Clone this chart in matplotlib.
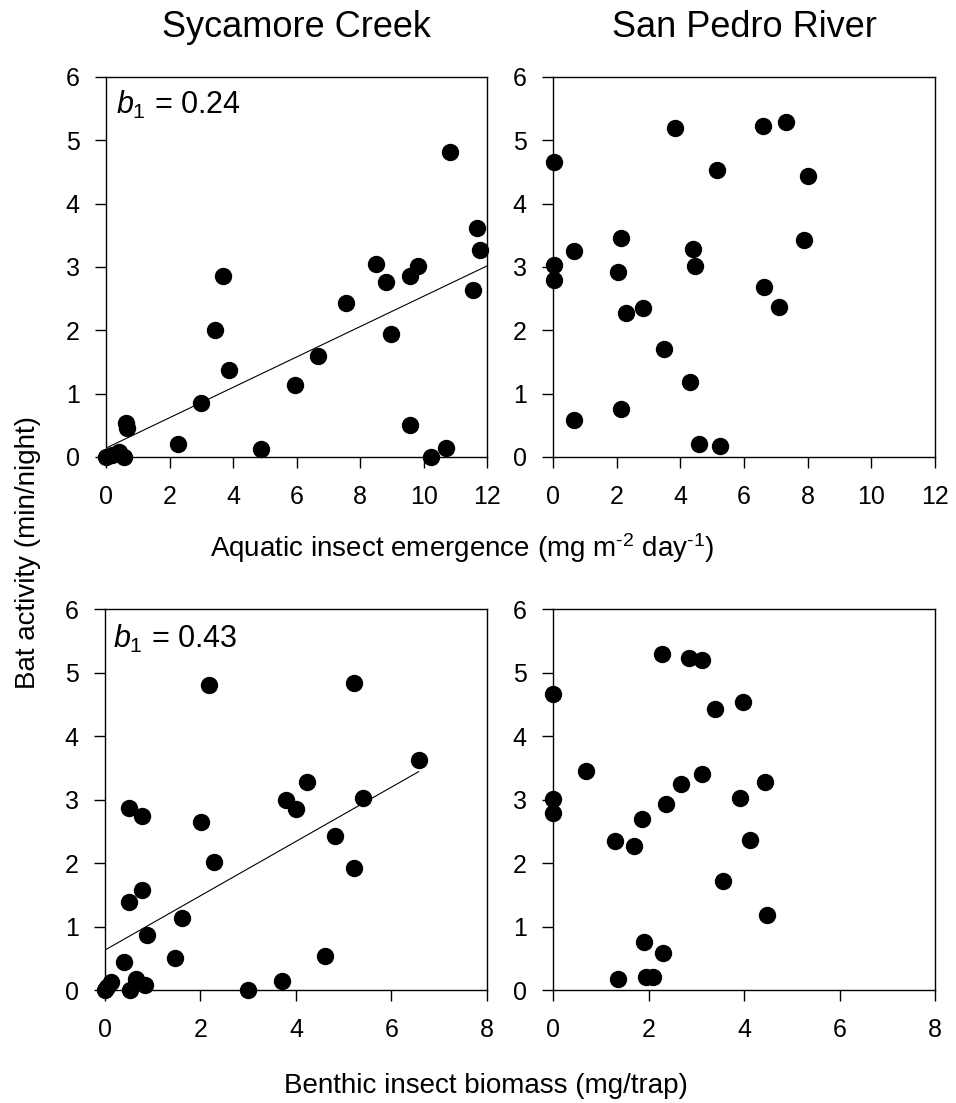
import numpy as np
import matplotlib
matplotlib.use('Agg')
import matplotlib.pyplot as plt

plt.rcParams['font.family'] = ['Liberation Sans', 'DejaVu Sans']
plt.rcParams['mathtext.fontset'] = 'custom'
plt.rcParams['mathtext.rm'] = 'Liberation Sans'
plt.rcParams['mathtext.it'] = 'Liberation Sans:italic'

# Sycamore Creek - aquatic insect emergence vs bat activity
syc_emerg_x = [0.0, 0.2, 0.4, 0.55, 0.63, 0.67, 2.26, 2.99, 3.44, 3.67, 3.86, 4.87,
               5.95, 6.66, 7.56, 8.48, 8.80, 8.97, 9.57, 9.83, 9.57, 10.23, 10.68,
               10.82, 11.68, 11.75, 11.56]
syc_emerg_y = [0.0, 0.03, 0.08, 0.0, 0.54, 0.46, 0.2, 0.86, 2.0, 2.86, 1.37, 0.12,
               1.13, 1.59, 2.43, 3.04, 2.77, 1.94, 2.86, 3.01, 0.50, 0.0, 0.14,
               4.82, 3.62, 3.27, 2.64]
syc_emerg_fit_x = [0, 12]
syc_emerg_fit_y = [0.14, 3.02]

# San Pedro River - aquatic insect emergence vs bat activity
sp_emerg_x = [0.02, 0.02, 0.02, 0.67, 0.67, 2.13, 2.04, 2.28, 2.81, 2.14, 3.47, 3.84,
              4.39, 4.45, 4.31, 4.60, 5.23, 5.15, 6.59, 7.31, 6.64, 7.11, 8.02, 7.89]
sp_emerg_y = [4.66, 3.03, 2.79, 3.25, 0.59, 3.45, 2.92, 2.28, 2.35, 0.76, 1.70, 5.19,
              3.28, 3.02, 1.18, 0.20, 0.18, 4.53, 5.23, 5.29, 2.68, 2.37, 4.43, 3.42]

# Sycamore Creek - benthic insect biomass vs bat activity
syc_benth_x = [0.0, 0.05, 0.12, 0.40, 0.51, 0.50, 0.77, 0.77, 0.89, 0.52, 0.66, 0.84,
               1.47, 1.61, 2.01, 2.18, 2.29, 3.0, 3.70, 3.79, 4.0, 4.24, 4.61, 4.82,
               5.21, 5.21, 5.40, 6.58]
syc_benth_y = [0.0, 0.05, 0.12, 0.44, 1.38, 2.86, 2.74, 1.57, 0.87, 0.0, 0.18, 0.08,
               0.50, 1.14, 2.64, 4.80, 2.01, 0.0, 0.14, 2.99, 2.85, 3.27, 0.54, 2.43,
               4.84, 1.93, 3.03, 3.62]
syc_benth_fit_x = [0, 6.57]
syc_benth_fit_y = [0.63, 3.44]

# San Pedro River - benthic insect biomass vs bat activity
sp_benth_x = [0.0, 0.0, 0.0, 0.68, 1.29, 1.36, 1.70, 1.87, 1.91, 1.94, 2.10, 2.31,
              2.29, 2.36, 2.68, 2.84, 3.12, 3.12, 3.39, 3.55, 3.91, 3.98, 4.12, 4.44,
              4.49]
sp_benth_y = [4.66, 3.01, 2.79, 3.45, 2.34, 0.18, 2.27, 2.69, 0.75, 0.2, 0.2, 0.59,
              5.30, 2.93, 3.25, 5.23, 5.20, 3.41, 4.43, 1.71, 3.02, 4.53, 2.37, 3.28,
              1.18]

fig = plt.figure(figsize=(9.56, 11.03), dpi=100)

ax1 = fig.add_axes([0.1109, 0.5857, 0.3990, 0.3445])
ax2 = fig.add_axes([0.5785, 0.5857, 0.3996, 0.3445])
ax3 = fig.add_axes([0.1098, 0.1024, 0.3996, 0.3454])
ax4 = fig.add_axes([0.5785, 0.1024, 0.3996, 0.3454])

panels = [
    (ax1, syc_emerg_x, syc_emerg_y, 12),
    (ax2, sp_emerg_x, sp_emerg_y, 12),
    (ax3, syc_benth_x, syc_benth_y, 8),
    (ax4, sp_benth_x, sp_benth_y, 8),
]

for ax, xs, ys, xmax in panels:
    ax.plot(xs, ys, 'o', color='black', ms=11.5, clip_on=False, zorder=3)
    ax.set_xlim(0, xmax)
    ax.set_ylim(0, 6)
    ax.set_xticks(np.arange(0, xmax + 1, 2))
    ax.set_yticks(np.arange(0, 7, 1))
    ax.tick_params(direction='out', length=8, width=1, labelsize=18,
                   colors='black')
    ax.tick_params(axis='x', pad=12)
    ax.tick_params(axis='y', pad=11)
    for s in ax.spines.values():
        s.set_linewidth(1)
        s.set_color('black')

ax1.plot(syc_emerg_fit_x, syc_emerg_fit_y, color='black', lw=0.8, zorder=2)
ax3.plot(syc_benth_fit_x, syc_benth_fit_y, color='black', lw=0.8, zorder=2)

ax1.text(0.025, 0.903, '$b_1$ = 0.24', transform=ax1.transAxes, fontsize=22,
         ha='left', va='baseline')
ax3.text(0.022, 0.898, '$b_1$ = 0.43', transform=ax3.transAxes, fontsize=22,
         ha='left', va='baseline')

ax1.set_title('Sycamore Creek', fontsize=26, pad=29)
ax2.set_title('San Pedro River', fontsize=26, pad=29)

fig.text(0.4838, 0.495, 'Aquatic insect emergence (mg m$^{\u2010 2}$ day$^{\u2010 1}$)',
         fontsize=20, ha='center', va='baseline')
fig.text(0.508, 0.009, 'Benthic insect biomass (mg/trap)',
         fontsize=20, ha='center', va='baseline')
fig.text(0.029, 0.4995, 'Bat activity (min/night)', fontsize=20,
         rotation=90, ha='center', va='center')

plt.savefig('out.png', dpi=100)
